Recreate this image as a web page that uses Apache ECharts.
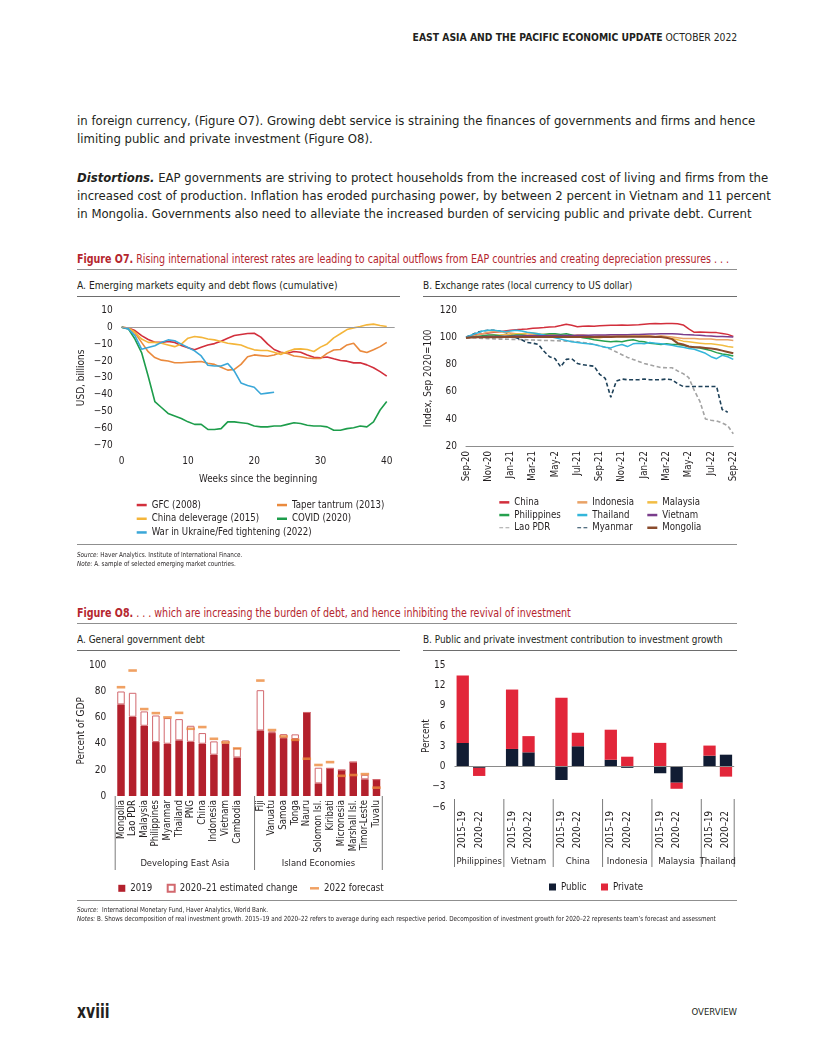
<!DOCTYPE html>
<html><head><meta charset="utf-8">
<script src="https://cdn.jsdelivr.net/npm/echarts/dist/echarts.min.js"></script>
<style>
body{margin:0;background:#fff;}
#page{position:relative;width:816px;height:1056px;overflow:hidden;background:#fff;font-family:'Liberation Sans Narrow','DejaVu Sans Condensed',sans-serif;color:#231f20;}
.a{position:absolute;white-space:nowrap;}
.jl{position:absolute;left:77px;width:660px;text-align:justify;text-align-last:justify;white-space:nowrap;font-size:13px;line-height:18px;}
.ll{position:absolute;left:77px;font-size:13px;line-height:18px;white-space:nowrap;}
.ftitle{position:absolute;left:77px;font-size:11.5px;line-height:14px;color:#b5262e;white-space:nowrap;transform:scaleX(0.92);transform-origin:0 0;}
.sub{position:absolute;font-size:10.5px;line-height:13px;white-space:nowrap;transform-origin:0 0;}
.hr{position:absolute;height:0;}
.src{position:absolute;left:77px;font-size:7px;line-height:9px;white-space:nowrap;transform:scaleX(0.9);transform-origin:0 0;}
.ch{position:absolute;}
</style></head>
<body><div id="page">
<div class="a" style="right:79px;top:31px;font-size:11px;line-height:14px;transform:scaleX(0.935);transform-origin:100% 0;"><b>EAST ASIA AND THE PACIFIC ECONOMIC UPDATE</b> OCTOBER 2022</div>

<div class="jl" style="top:112px;">in foreign currency, (Figure O7). Growing debt service is straining the finances of governments and firms and hence</div>
<div class="ll" style="top:130px;">limiting public and private investment (Figure O8).</div>
<div class="jl" style="top:169px;"><b><i>Distortions.</i></b> EAP governments are striving to protect households from the increased cost of living and firms from the</div>
<div class="jl" style="top:187px;">increased cost of production. Inflation has eroded purchasing power, by between 2 percent in Vietnam and 11 percent</div>
<div class="jl" style="top:205px;">in Mongolia. Governments also need to alleviate the increased burden of servicing public and private debt. Current</div>

<div class="ftitle" style="top:252px;"><b>Figure O7.</b> Rising international interest rates are leading to capital outflows from EAP countries and creating depreciation pressures . . .</div>
<div class="hr" style="left:77px;width:660px;top:269px;border-top:1.5px solid #8f8f8f;"></div>
<div class="sub" style="left:77px;top:279px;transform:scaleX(0.975);">A. Emerging markets equity and debt flows (cumulative)</div>
<div class="hr" style="left:77px;width:323px;top:296px;border-top:1px solid #6d6d6d;"></div>
<div class="sub" style="left:423px;top:279px;transform:scaleX(0.95);">B. Exchange rates (local currency to US dollar)</div>
<div class="hr" style="left:423px;width:314px;top:296px;border-top:1px solid #6d6d6d;"></div>
<div id="c1" class="ch" style="left:70px;top:298px;width:335px;height:265px;"></div>
<div id="c2" class="ch" style="left:405px;top:298px;width:340px;height:265px;"></div>
<div class="hr" style="left:77px;width:660px;top:544px;border-top:1.5px solid #8f8f8f;"></div>
<div class="src" style="top:551px;"><i>Source:</i> Haver Analytics. Institute of International Finance.</div>
<div class="src" style="top:560px;"><i>Note:</i> A. sample of selected emerging market countries.</div>

<div class="ftitle" style="top:606px;"><b>Figure O8.</b> . . . which are increasing the burden of debt, and hence inhibiting the revival of investment</div>
<div class="hr" style="left:77px;width:660px;top:623px;border-top:1.5px solid #8f8f8f;"></div>
<div class="sub" style="left:77px;top:633px;transform:scaleX(0.95);">A. General government debt</div>
<div class="hr" style="left:77px;width:323px;top:650px;border-top:1px solid #6d6d6d;"></div>
<div class="sub" style="left:423px;top:633px;transform:scaleX(0.94);">B. Public and private investment contribution to investment growth</div>
<div class="hr" style="left:423px;width:314px;top:650px;border-top:1px solid #6d6d6d;"></div>
<div id="c3" class="ch" style="left:70px;top:652px;width:335px;height:265px;"></div>
<div id="c4" class="ch" style="left:405px;top:652px;width:340px;height:265px;"></div>
<div class="hr" style="left:77px;width:660px;top:900px;border-top:1.5px solid #8f8f8f;"></div>
<div class="src" style="top:906px;"><i>Source:</i>&nbsp; International Monetary Fund, Haver Analytics, World Bank.</div>
<div class="src" style="top:915px;"><i>Notes:</i> B. Shows decomposition of real investment growth. 2015–19 and 2020–22 refers to average during each respective period. Decomposition of investment growth for 2020–22 represents team’s forecast and assessment</div>

<div class="a" style="left:77px;top:1000px;font-size:19px;line-height:22px;font-weight:bold;transform:scaleX(0.82);transform-origin:0 0;">xviii</div>
<div class="a" style="right:79px;top:1006px;font-size:9.5px;line-height:12px;">OVERVIEW</div>
</div>
<script>
// ---------------- DATA ----------------
// Figure O7 A: cumulative flows, USD billions, by week since beginning
const weeks = [0,1,2,3,4,5,6,7,8,9,10,11,12,13,14,15,16,17,18,19,20,21,22,23,24,25,26,27,28,29,30,31,32,33,34,35,36,37,38,39,40];
const gfc2008 = [0,-0.5,-2,-5,-7.3,-8.9,-9,-8.5,-9,-10.8,-12.2,-13.4,-11.8,-10.5,-9.7,-8.3,-6.5,-4.9,-4.3,-3.7,-3.6,-5.9,-9.9,-13.2,-14.8,-15.4,-14.4,-14.8,-16.4,-17.8,-18.1,-17.6,-18.7,-19.7,-20.1,-21.1,-21.1,-22.3,-24,-26.3,-29];
const taper2013 = [0,-0.5,-3.4,-9,-14.5,-18,-19.5,-20,-21,-21,-20.7,-20.5,-20.3,-21.3,-22,-23.7,-25.4,-25,-22,-17.5,-16.4,-16.8,-17.2,-16.5,-15,-15.5,-17,-17.5,-18.2,-18.5,-18.5,-15.5,-13.5,-13.2,-10.5,-9.5,-14,-15,-13.3,-11.5,-9];
const china2015 = [0,-0.5,-3,-7,-9,-9,-9.5,-10.5,-11.5,-10,-6.5,-5.5,-6,-7,-7.5,-8.5,-9.5,-10,-10.5,-12.2,-13.4,-13.8,-13.8,-14.8,-16.2,-14.4,-13,-12.8,-13.2,-14.4,-11.8,-9.9,-6.3,-3.9,-1.4,-0.4,0.4,1.4,1.8,1,0.4];
const covid2020 = [0,-1,-7,-15,-29,-44,-47.5,-51,-52.5,-54,-56,-57.5,-57.5,-60.5,-60.5,-60,-56,-56,-56.5,-57,-58.5,-59,-59,-58.5,-58.5,-57.5,-56.5,-57,-58,-58.5,-58.5,-59,-61,-61,-60,-59.5,-58.5,-59,-56,-49,-44];
const war2022 = [0,-1,-5,-13,-12,-11,-9,-7.5,-8,-10,-12,-14,-17,-22.5,-23,-23,-21.5,-26,-33,-34.5,-35.5,-39.5,-39,-38.5];
const flowsTicks = [0,10,20,30,40];

// Figure O7 B: exchange rate index, Sep 2020 = 100 (semi-monthly)
const fxDates = ['2020-09-01','2020-09-15','2020-10-01','2020-10-15','2020-11-01','2020-11-15','2020-12-01','2020-12-15',
 '2021-01-01','2021-01-15','2021-02-01','2021-02-15','2021-03-01','2021-03-15','2021-04-01','2021-04-15','2021-05-01','2021-05-15','2021-06-01','2021-06-15',
 '2021-07-01','2021-07-15','2021-08-01','2021-08-15','2021-09-01','2021-09-15','2021-10-01','2021-10-15','2021-11-01','2021-11-15','2021-12-01','2021-12-15',
 '2022-01-01','2022-01-15','2022-02-01','2022-02-15','2022-03-01','2022-03-15','2022-04-01','2022-04-15','2022-05-01','2022-05-15','2022-06-01','2022-06-15',
 '2022-07-01','2022-07-15','2022-08-01','2022-08-15','2022-09-01'];
const fxTickLabels = ['Sep-20','Nov-20','Jan-21','Mar-21','May-2','Jul-21','Sep-21','Nov-21','Jan-22','Mar-22','May-2','Jul-22','Sep-22'];
const fxChina = [100,101.5,102.5,103,103.5,104,104.5,105,105.5,106,106.2,106.5,107,107.3,107.5,108,108.2,109,110,109.2,108.2,108.5,108.7,108.5,108.8,109,109.2,109.3,109.5,109.3,109.5,109.7,110,110.3,110.5,110.4,110.6,110.5,110.3,109.5,106.5,104,104.2,104,103.8,103.8,103.2,102.5,101];
const fxIndonesia = [100,101,102,103,104,104.5,104.5,104,103.5,103,102.5,102,102.5,102,102.5,102,102,101.5,101.5,101.5,102,102,101.5,101,101.5,101.5,102,102,101.5,102,102,102,101.5,101.5,101,101.5,101,100.5,100,99.5,99.5,99.5,99,99,99,98.5,98.5,98.5,98];
const fxMalaysia = [100,100.3,100.8,101,101.5,102,102,102.5,102.5,103,103,103.5,103.5,103,102.5,102.5,102,102,101.5,101.5,101,101,100.5,100,100,100.5,100.5,101,101,101,101.5,101,101,101,100.5,100.5,100,99.5,98.5,97.5,97,96.5,96,95.5,95.5,95,94.5,93.5,93];
const fxPhilippines = [100,100.5,101,101.5,102,102,101.5,101,101.5,102,102,101.5,101.5,102,102.5,103,103,102.5,103,102,101,100,99.5,98.5,98,97.5,97,97.5,97,98,98.5,97.5,97,96,95.5,95,95.5,95,95,94.5,93.5,93,92.5,91.5,90.5,89,88,87.5,86.5];
const fxThailand = [100.5,102,103.5,105,105.5,105.5,105,104.5,105,105.5,105,104,103.5,103,102,101,100,99,98,97,96.5,96,95.5,95,94,93,92.5,94,95,93.5,95.5,96,95.5,96.5,96,95.5,95,94.5,93.5,93,92,91.5,90,88.5,86,84.5,87,86,84];
const fxVietnam = [100,100.3,100.5,100.8,101,101,101,101.2,101.2,101.3,101.3,101.5,101.5,101.5,101.5,101.6,101.6,101.6,101.7,101.7,101.8,101.8,101.8,102,102,102,102.2,102.2,102.3,102.3,102.5,102.5,102.6,102.7,102.8,103,103,103,102.8,102.5,102.3,102,101.8,101.5,101.3,101,101,100.8,100.5];
const fxLao = [100,100,99.8,99.5,99.3,99.2,99,99,98.8,98.8,98.7,98.5,98.3,98.2,98,98,97.8,97.7,97.5,97.3,97,96.5,96,95,94,93,91.5,89.5,87.5,85.5,84,82.5,81,80,79,78,77.8,77.8,75.5,73.5,70.5,61,53,40,39,38.5,37,35,29];
const fxMyanmar = [100.5,102,104,105,105.5,105.5,105,104,102.5,100,98.5,96.5,96,95,90,86,84.5,78.5,84,84.5,81,80,79.5,79,73,70,56,68,69.5,69,69,69,69.5,69,69,69,69.5,69,66,64,64,64,64,64,64,64,47,45,null];
const fxMongolia = [100,100.2,100.3,100.3,100.4,100.4,100.4,100.5,100.5,100.5,100.5,100.5,100.5,100.6,100.6,100.6,100.6,100.6,100.6,100.6,100.6,100.6,100.6,100.6,100.6,100.6,100.6,100.7,100.7,100.7,100.7,100.7,100.7,100.7,100.6,100.5,100,99,96,95,93.5,93,93,92.5,92,91.5,90.5,89.5,88.5];

// Figure O8 A: general government debt, percent of GDP
const devEastAsia = ['Mongolia','Lao PDR','Malaysia','Philippines','Myanmar','Thailand','PNG','China','Indonesia','Vietnam','Cambodia'];
const devDebt2019 = [70.3,60.8,53.9,41.4,40.1,42.7,41.6,40.1,31.7,40.1,29.6];
const devDebtChange = [9.9,18.4,11,20.4,19.7,16.3,12.3,8.2,10.2,2.6,7.2];
const devDebt2022 = [83.5,96.3,66.7,63.6,60.3,63.8,51.6,52.9,43.9,41.1,36.5];
const islandEcon = ['Fiji','Vanuatu','Samoa','Tonga','Nauru','Solomon Isl.','Kiribati','Micronesia','Marshall Isl.','Timor-Leste','Tuvalu'];
const islDebt2019 = [50.3,48.3,44.4,43.7,64.1,9.7,21.2,19.9,26,12.8,12.6];
const islDebtChange = [30.9,1.3,3.1,3.6,0,12,0,0,0,3.5,0];
const islDebt2022 = [88.6,50.6,45.7,43.1,28.6,23.8,26,15.5,16.1,16.8,6.4];
const debtGroups = ['Developing East Asia','Island Economies'];

// Figure O8 B: contribution to investment growth, percent
const invCountries = ['Philippines','Vietnam','China','Indonesia','Malaysia','Thailand'];
const invPeriods = ['2015–19','2020–22'];
const invPublic = [[3.5,-0.2],[2.6,2.1],[-2.0,3.0],[1.0,-0.2],[-1.0,-2.4],[1.6,1.75]];
const invPrivate = [[10.0,-1.2],[8.8,2.4],[10.2,2.0],[4.45,1.45],[3.5,-0.9],[1.5,-1.5]];

// ---------------- STYLE ----------------
const FONT = "'Liberation Sans Narrow','DejaVu Sans Condensed',sans-serif";
const INK = '#231f20';
const minus = v => (v < 0 ? '\u2212' + Math.abs(v) : String(v));
const txt = (s) => Object.assign({fontFamily: FONT, color: INK}, s || {});
const SOLID = 'rect';
const DASHED = 'path://M0,0h4v1h-4zM6.5,0h4v1h-4z';
const gridBase = {outerBoundsMode:'none', containLabel:false};

// ---------------- CHART O7 A ----------------
(function(){
  const ch = echarts.init(document.getElementById('c1'));
  const mk = (name, vals, color) => ({
    name, type:'line', symbol:'none', smooth:false,
    data: vals.map((v,i)=>[weeks[i], v]),
    lineStyle:{color, width:1.6}, itemStyle:{color}
  });
  const series = [
    mk('GFC (2008)', gfc2008, '#d22f3c'),
    mk('Taper tantrum (2013)', taper2013, '#ea8a3d'),
    mk('China deleverage (2015)', china2015, '#f4b53a'),
    mk('COVID (2020)', covid2020, '#1d9d4b'),
    mk('War in Ukraine/Fed tightening (2022)', war2022, '#3aa7d8')
  ];
  series[0].markLine = {silent:true, symbol:'none', animation:false, label:{show:false},
    lineStyle:{color:'#9c9c9c', width:1, type:'solid'}, data:[{yAxis:0}]};
  const leg = (data, left) => ({data: data.map(n=>({name:n, icon:SOLID})), orient:'vertical', left, top:200.2, padding:0,
    itemGap:0, itemWidth:10, itemHeight:2.5, height:60,
    textStyle: txt({fontSize:9.6, lineHeight:13.7}), selectedMode:false});
  ch.setOption({
    animation:false,
    textStyle:{fontFamily:FONT},
    grid: Object.assign({left:51.7, top:12.3, width:273, height:135.2}, gridBase),
    xAxis:{type:'value', min:0, max:41.2, interval:10,
      axisLine:{show:false}, axisTick:{show:false}, splitLine:{show:false},
      axisLabel: Object.assign(txt({fontSize:10, margin:11}), {showMaxLabel:false, formatter:v=> flowsTicks.includes(v)? String(v):''}),
      name:'Weeks since the beginning', nameLocation:'middle', nameGap:29, nameMoveOverlap:false, nameTextStyle: txt({fontSize:9.8})},
    yAxis:{type:'value', min:-70, max:10, interval:10,
      axisLine:{show:false}, axisTick:{show:false}, splitLine:{show:false},
      axisLabel: Object.assign(txt({fontSize:10, margin:9}), {formatter:minus}),
      name:'USD, billions', nameLocation:'middle', nameGap:35.7, nameMoveOverlap:false, nameTextStyle: txt({fontSize:10})},
    legend:[
      leg(['GFC (2008)','China deleverage (2015)','War in Ukraine/Fed tightening (2022)'], 66.7),
      leg(['Taper tantrum (2013)','COVID (2020)'], 207)
    ],
    series
  });
})();

// ---------------- CHART O7 B ----------------
(function(){
  const ch = echarts.init(document.getElementById('c2'));
  const mk = (name, vals, color, dashed, width) => ({
    name, type:'line', symbol:'none', data: vals, connectNulls:false,
    lineStyle:{color, width: width||1.5, type: dashed? [4,2.5] : 'solid'}, itemStyle:{color}
  });
  const dashedSet = ['Lao PDR','Myanmar'];
  const leg = (data, left) => ({data: data.map(n=>({name:n, icon: dashedSet.includes(n)? DASHED : SOLID})),
    orient:'vertical', left, top:198, padding:0, itemGap:0, itemWidth:10, itemHeight:2.5, height:60,
    textStyle: txt({fontSize:9.6, lineHeight:12.7}), selectedMode:false});
  ch.setOption({
    animation:false,
    textStyle:{fontFamily:FONT},
    grid: Object.assign({left:61, top:12.7, width:267.3, height:135.3}, gridBase),
    xAxis:{type:'category', data: fxDates, boundaryGap:false,
      axisLine:{show:true, lineStyle:{color:'#8d8d8d', width:1}}, axisTick:{show:false}, splitLine:{show:false},
      axisLabel: Object.assign(txt({fontSize:9.6, margin:5}), {interval:3, rotate:90, formatter:(v,i)=> fxTickLabels[i/4] || ''})},
    yAxis:{type:'value', min:20, max:120, interval:20,
      axisLine:{show:false}, axisTick:{show:false}, splitLine:{show:false},
      axisLabel: txt({fontSize:10, margin:9}),
      name:'Index, Sep 2020=100', nameLocation:'middle', nameGap:33, nameMoveOverlap:false, nameTextStyle: txt({fontSize:10})},
    legend:[
      leg(['China','Philippines','Lao PDR'], 94.3),
      leg(['Indonesia','Thailand','Myanmar'], 172.3),
      leg(['Malaysia','Vietnam','Mongolia'], 242.3)
    ],
    series:[
      mk('Lao PDR', fxLao, '#a3a3a3', true, 1.6),
      mk('Myanmar', fxMyanmar, '#1e4159', true, 1.6),
      mk('China', fxChina, '#d22f3c'),
      mk('Indonesia', fxIndonesia, '#e9a266'),
      mk('Malaysia', fxMalaysia, '#f2bd44'),
      mk('Philippines', fxPhilippines, '#26a04e'),
      mk('Thailand', fxThailand, '#33b6da'),
      mk('Vietnam', fxVietnam, '#7a3d8c'),
      mk('Mongolia', fxMongolia, '#8a4b2c', false, 2)
    ]
  });
})();

// group separators helper
function drawGroups(ch, cats, starts, names, y1, y2, labelY){
  const c0 = ch.convertToPixel({xAxisIndex:0}, cats[0]);
  const c1 = ch.convertToPixel({xAxisIndex:0}, cats[1]);
  const w = c1 - c0;
  const edge = i => c0 + w*(i - 0.5);
  const seps = starts.map(edge).concat([edge(cats.length)]);
  const g = [];
  seps.forEach(x => g.push({type:'line', silent:true, shape:{x1:x, y1, x2:x, y2}, style:{stroke:'#7b7b7b', lineWidth:1}}));
  names.forEach((n,i) => g.push({type:'text', silent:true, x:(seps[i]+seps[i+1])/2, y:labelY,
    style:{text:n, fill:INK, font:'9.4px ' + FONT, align:'center', verticalAlign:'middle'}}));
  ch.setOption({graphic:g});
}

// ---------------- CHART O8 A ----------------
(function(){
  const ch = echarts.init(document.getElementById('c3'));
  const cats = devEastAsia.concat([' '], islandEcon);
  const join = (a,b) => a.concat([null], b);
  const d2019 = join(devDebt2019, islDebt2019);
  const dChg = join(devDebtChange, islDebtChange);
  const d2022 = join(devDebt2022, islDebt2022);
  const leg = (name, left, iw, ih) => ({data:[{name, icon:'rect'}], left, top:230.3, padding:0, itemWidth:iw, itemHeight:ih, itemGap:0,
    textStyle: txt({fontSize:9.6, lineHeight:12}), selectedMode:false});
  ch.setOption({
    animation:false,
    textStyle:{fontFamily:FONT},
    grid: Object.assign({left:45.2, top:13.7, width:267.1, height:130.3}, gridBase),
    xAxis:{type:'category', data: cats,
      axisLine:{show:false}, axisTick:{show:false}, splitLine:{show:false},
      axisLabel: Object.assign(txt({fontSize:9.6, margin:4}), {interval:0, rotate:90})},
    yAxis:{type:'value', min:0, max:100, interval:20,
      axisLine:{show:false}, axisTick:{show:false}, splitLine:{show:false},
      axisLabel: txt({fontSize:10, margin:9}),
      name:'Percent of GDP', nameLocation:'middle', nameGap:29, nameMoveOverlap:false, nameTextStyle: txt({fontSize:10})},
    legend:[
      leg('2019', 48.3, 7, 7),
      leg('2020–21 estimated change', 96.7, 7, 7),
      leg('2022 forecast', 240, 9, 2.5)
    ],
    series:[
      {name:'2019', type:'bar', stack:'d', barWidth:7.5, data:d2019, itemStyle:{color:'#b3202c'}},
      {name:'2020–21 estimated change', type:'bar', stack:'d', barWidth:7.5, data:dChg,
        itemStyle:{color:'#ffffff', borderColor:'#d2686e', borderWidth:1}},
      {name:'2022 forecast', type:'scatter', symbol:'rect', symbolSize:[8.5,2.6], data:d2022, z:5,
        itemStyle:{color:'#ec8a3c'}}
    ]
  });
  drawGroups(ch, cats, [0, devEastAsia.length + 1], debtGroups, 144, 218, 212);
})();

// ---------------- CHART O8 B ----------------
(function(){
  const ch = echarts.init(document.getElementById('c4'));
  const cats = [], pub = [], priv = [], starts = [];
  invCountries.forEach((c, ci) => {
    starts.push(cats.length);
    invPeriods.forEach((p, pi) => { cats.push(c + '|' + p); pub.push(invPublic[ci][pi]); priv.push(invPrivate[ci][pi]); });
    if (ci < invCountries.length - 1) { cats.push(c + '|gap'); pub.push(null); priv.push(null); }
  });
  const leg = (name, left) => ({data:[{name, icon:'rect'}], left, top:229, padding:0, itemWidth:7, itemHeight:7, itemGap:0,
    textStyle: txt({fontSize:9.6, lineHeight:12}), selectedMode:false});
  ch.setOption({
    animation:false,
    textStyle:{fontFamily:FONT},
    grid: Object.assign({left:49.5, top:13.25, width:279.7, height:141.75}, gridBase),
    xAxis:{type:'category', data: cats,
      axisLine:{show:false}, axisTick:{show:false}, splitLine:{show:false},
      axisLabel: Object.assign(txt({fontSize:9.6, margin:4}), {interval:0, rotate:90,
        formatter: v => { const p = v.split('|')[1]; return p === 'gap' ? '' : p; }})},
    yAxis:{type:'value', min:-6, max:15, interval:3,
      axisLine:{show:false}, axisTick:{show:false}, splitLine:{show:false},
      axisLabel: Object.assign(txt({fontSize:10, margin:9}), {formatter:minus}),
      name:'Percent', nameLocation:'middle', nameGap:23.5, nameMoveOverlap:false, nameTextStyle: txt({fontSize:10})},
    legend:[ leg('Public', 144), leg('Private', 196) ],
    series:[
      {name:'Public', type:'bar', stack:'i', barWidth:12.3, data:pub, itemStyle:{color:'#111c33'},
        markLine:{silent:true, symbol:'none', animation:false, label:{show:false},
          lineStyle:{color:'#8a8a8a', width:1, type:'solid'}, data:[{yAxis:0}]}},
      {name:'Private', type:'bar', stack:'i', barWidth:12.3, data:priv, itemStyle:{color:'#e2263a'}}
    ]
  });
  drawGroups(ch, cats, starts, invCountries, 147, 215, 210);
})();
</script>
</body></html>
